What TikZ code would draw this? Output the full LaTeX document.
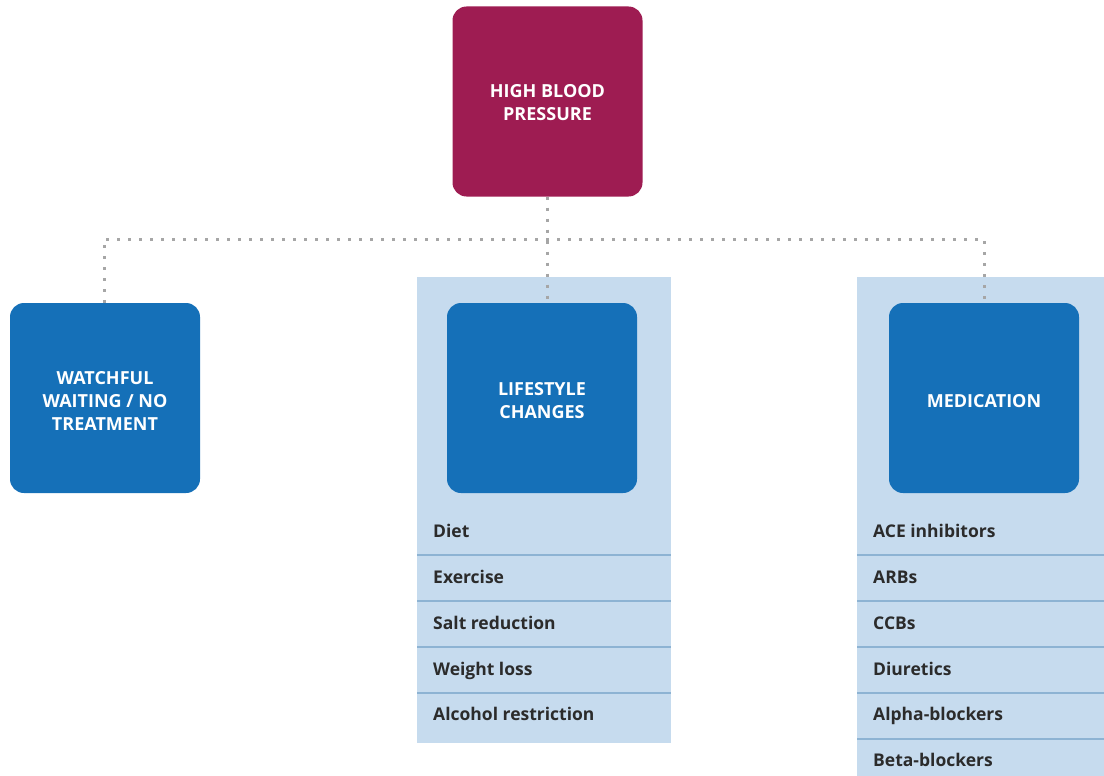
\documentclass[tikz,border=0pt]{standalone}
\usepackage{fontspec}
\setmainfont{Open Sans}
\definecolor{maroon}{HTML}{9E1C52}
\definecolor{boxblue}{HTML}{1570B8}
\definecolor{panelblue}{HTML}{C6DBEE}
\definecolor{sepblue}{HTML}{8DB3D3}
\definecolor{itemtext}{HTML}{2B2B2B}
\definecolor{dotgray}{HTML}{A6A6A6}
\begin{document}
\begin{tikzpicture}[x=1pt,y=-1pt,
  bigbox/.style={rounded corners=14pt, minimum width=190pt, minimum height=190pt, inner sep=0pt},
  boxtext/.style={text=white, align=center, inner sep=0pt, font=\bfseries\fontsize{18}{23}\selectfont},
  topbox/.style={bigbox, fill=maroon, label={[boxtext, yshift=-1pt]center:#1}},
  treatbox/.style={bigbox, fill=boxblue, label={[boxtext, yshift=-3pt]center:#1}},
  panel/.style={fill=panelblue, inner sep=0pt, anchor=north west},
  item/.style={anchor=base west, inner sep=0pt, text=itemtext, font=\bfseries\fontsize{17.5}{20}\selectfont},
  sep/.style={draw=sepblue, line width=1.2pt},
  dots/.style={draw=dotgray, line width=3pt, dash pattern=on 3pt off 8pt}]
\useasboundingbox (0,0) rectangle (1104,776);
% panels
\node[panel, minimum width=254pt, minimum height=466pt] (lpanel) at (417,277) {};
\node[panel, minimum width=247pt, minimum height=499pt] (mpanel) at (857,277) {};
% boxes
\node[topbox={HIGH BLOOD\\PRESSURE}] (hbp) at (547.5,101.5) {};
\node[treatbox={WATCHFUL\\WAITING / NO\\TREATMENT}] (wait) at (105,398) {};
\node[treatbox={LIFESTYLE\\CHANGES}] (life) at (542,398) {};
\node[treatbox={MEDICATION}] (med) at (984,398) {};
% connectors
\coordinate (jl) at (104,239);
\coordinate (jr) at (984,239);
\draw[dots] (hbp.south) -- (hbp.south |- life.north);
\draw[dots] (wait.north -| jl) -- (jl) -- (jr) -- (med.north);
% lifestyle list
\foreach \y in {555,601,647,693} \draw[sep] (417,\y) -- (671,\y);
\node[item] (l1) at (433,537.5) {Diet};
\node[item] (l2) at (433,583.5) {Exercise};
\node[item] (l3) at (433,629.5) {Salt reduction};
\node[item] (l4) at (433,675.5) {Weight loss};
\node[item] (l5) at (433,720.5) {Alcohol restriction};
% medication list
\foreach \y in {555,601,647,693,739} \draw[sep] (857,\y) -- (1104,\y);
\node[item] (m1) at (873,537.5) {ACE inhibitors};
\node[item] (m2) at (873,583.5) {ARBs};
\node[item] (m3) at (873,629.5) {CCBs};
\node[item] (m4) at (873,675.5) {Diuretics};
\node[item] (m5) at (873,720.5) {Alpha-blockers};
\node[item] (m6) at (873,766.5) {Beta-blockers};
\end{tikzpicture}
\end{document}
